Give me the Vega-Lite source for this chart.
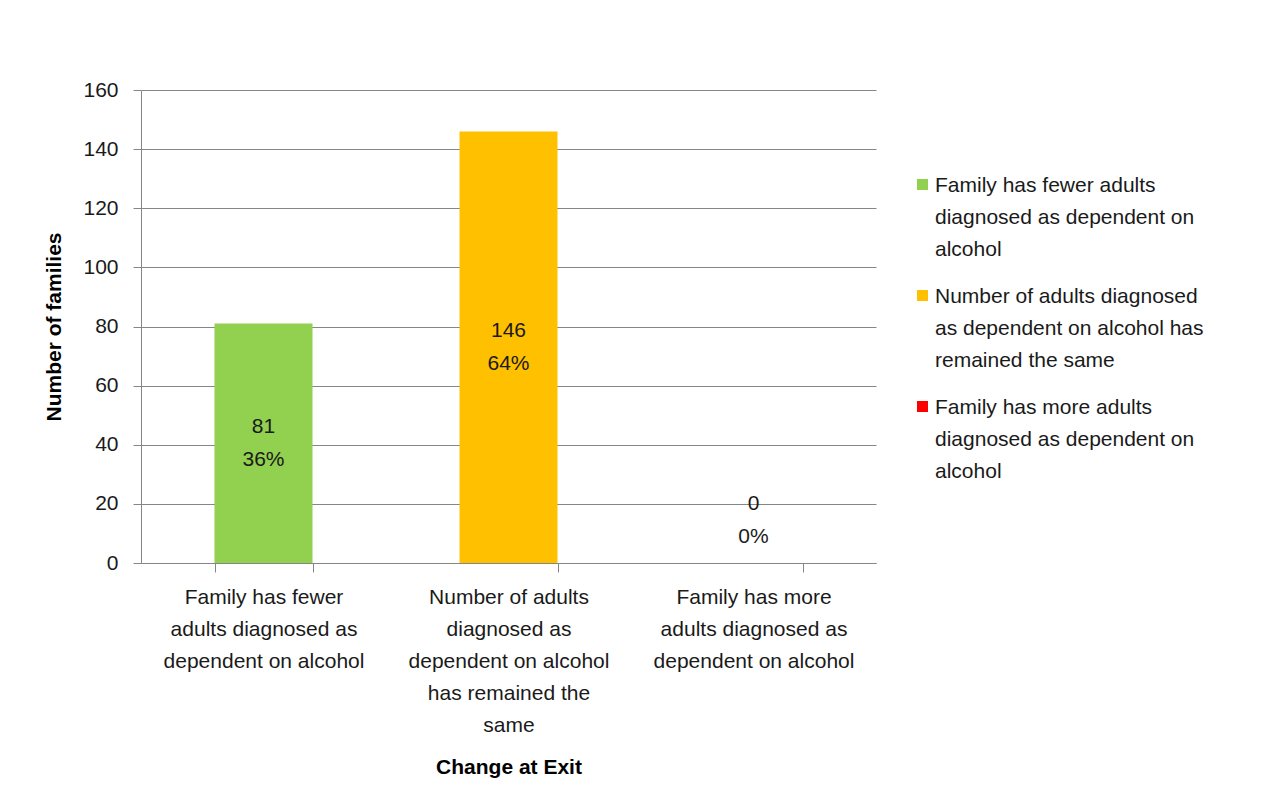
{
  "$schema": "https://vega.github.io/schema/vega-lite/v6.json",
  "autosize": "none",
  "width": 735,
  "height": 473,
  "padding": {"left": 141, "top": 90, "right": 398, "bottom": 248},
  "background": "white",
  "config": {
    "font": "Liberation Sans",
    "view": {"stroke": null},
    "axis": {"labelFont": "Liberation Sans", "titleFont": "Liberation Sans", "labelColor": "#1a1a1a", "titleColor": "#000000"}
  },
  "data": {
    "values": [
      {"category": "Family has fewer adults diagnosed as dependent on alcohol", "count": 81, "pct": "36%"},
      {"category": "Number of adults diagnosed as dependent on alcohol has remained the same", "count": 146, "pct": "64%"},
      {"category": "Family has more adults diagnosed as dependent on alcohol", "count": 0, "pct": "0%"}
    ]
  },
  "transform": [
    {"calculate": "datum.count + '\\n' + datum.pct", "as": "label"},
    {"calculate": "datum.count > 0 ? datum.count / 2 : 14.5", "as": "labelPos"}
  ],
  "layer": [
    {
      "mark": {"type": "bar"},
      "encoding": {
        "x": {
          "field": "category", "type": "nominal", "sort": null,
          "scale": {"paddingInner": 0.6, "paddingOuter": 0.3},
          "axis": {
            "title": "Change at Exit",
            "titleFontSize": 21, "titleFontWeight": "bold", "titlePadding": 21,
            "labelAngle": 0, "labelFontSize": 21, "labelLineHeight": 32,
            "labelPadding": 14, "labelBaseline": "top", "labelLimit": 300,
            "labelExpr": "datum.label == 'Family has fewer adults diagnosed as dependent on alcohol' ? ['Family has fewer', 'adults diagnosed as', 'dependent on alcohol'] : datum.label == 'Family has more adults diagnosed as dependent on alcohol' ? ['Family has more', 'adults diagnosed as', 'dependent on alcohol'] : datum.label == 'Number of adults diagnosed as dependent on alcohol has remained the same' ? ['Number of adults', 'diagnosed as', 'dependent on alcohol', 'has remained the', 'same'] : ''",
            "tickBand": "extent", "tickSize": 9, "tickColor": "#868686",
            "domainColor": "#868686", "domainWidth": 1
          }
        },
        "y": {
          "field": "count", "type": "quantitative",
          "scale": {"domain": [0, 160], "nice": false},
          "axis": {
            "title": "Number of families",
            "titleFontSize": 21, "titleFontWeight": "bold", "titlePadding": 18,
            "values": [0, 20, 40, 60, 80, 100, 120, 140, 160],
            "labelFontSize": 21, "labelPadding": 15,
            "tickSize": 8, "tickColor": "#868686",
            "domainColor": "#868686",
            "gridColor": "#868686", "gridWidth": 1
          }
        },
        "color": {
          "field": "category", "type": "nominal", "sort": null,
          "scale": {
            "domain": [
              "Family has fewer adults diagnosed as dependent on alcohol",
              "Number of adults diagnosed as dependent on alcohol has remained the same",
              "Family has more adults diagnosed as dependent on alcohol"
            ],
            "range": ["#92D050", "#FFC000", "#FF0000"]
          },
          "legend": {
            "title": null,
            "orient": "none", "legendX": 771, "legendY": 84, "padding": 0,
            "symbolType": "square", "symbolSize": 121, "symbolStrokeWidth": 0,
            "labelFontSize": 21, "labelLimit": 400, "labelOffset": 2,
            "labelColor": "#1a1a1a", "labelBaseline": "top",
            "rowPadding": 25,
            "labelExpr": "datum.label == 'Family has fewer adults diagnosed as dependent on alcohol' ? ['Family has fewer adults', 'diagnosed as dependent on', 'alcohol'] : datum.label == 'Family has more adults diagnosed as dependent on alcohol' ? ['Family has more adults', 'diagnosed as dependent on', 'alcohol'] : ['Number of adults diagnosed', 'as dependent on alcohol has', 'remained the same']",
            "encode": {"labels": {"update": {"lineHeight": {"value": 32}, "dy": {"value": -10}}}}
          }
        }
      }
    },
    {
      "mark": {"type": "text", "fontSize": 21, "lineBreak": "\n", "lineHeight": 33, "color": "#1a1a1a", "baseline": "middle", "dy": -16},
      "encoding": {
        "x": {"field": "category", "type": "nominal", "sort": null},
        "y": {"field": "labelPos", "type": "quantitative"},
        "text": {"field": "label"}
      }
    }
  ]
}
